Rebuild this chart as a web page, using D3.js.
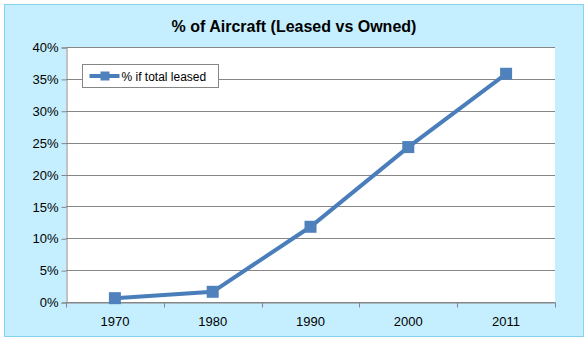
<!DOCTYPE html>
<html>
<head>
<meta charset="utf-8">
<script src="https://cdn.jsdelivr.net/npm/d3@7"></script>
<style>
  body { margin: 0; background: #fff; }
  text { font-family: "Liberation Sans", Arial, sans-serif; }
</style>
</head>
<body>
<svg id="chart" width="588" height="341"></svg>
<script>
var years = ["1970", "1980", "1990", "2000", "2011"],
    leased = [0.006, 0.016, 0.118, 0.243, 0.358],
    yTicks = [0, 0.05, 0.10, 0.15, 0.20, 0.25, 0.30, 0.35, 0.40];

var svg = d3.select("#chart"),
    margin = {left: 66, right: 33, top: 47, bottom: 39},
    width = +svg.attr("width"),
    height = +svg.attr("height");

// chart area background
svg.append("rect")
    .attr("x", 4.5).attr("y", 4.5)
    .attr("width", width - 9).attr("height", height - 9)
    .attr("fill", "#c5effe").attr("stroke", "#86d3f0");

var x = d3.scaleBand().domain(years).range([margin.left, width - margin.right]),
    y = d3.scaleLinear().domain([0, 0.4]).range([height - margin.bottom, margin.top]);

svg.append("rect")
    .attr("x", margin.left).attr("y", margin.top)
    .attr("width", width - margin.left - margin.right)
    .attr("height", height - margin.top - margin.bottom)
    .attr("fill", "#fff");

// gridlines
svg.append("g").selectAll("line").data(yTicks).enter().append("line")
    .attr("x1", margin.left).attr("x2", width - margin.right)
    .attr("y1", function(d) { return Math.round(y(d)) + 0.5; })
    .attr("y2", function(d) { return Math.round(y(d)) + 0.5; })
    .attr("stroke", "#868686");

var yAxis = svg.append("g")
    .attr("transform", "translate(" + (margin.left + 0.5) + ",0.5)")
    .call(d3.axisLeft(y).tickValues(yTicks).tickFormat(d3.format(".0%")).tickSize(5).tickPadding(3));

var xAxis = svg.append("g")
    .attr("transform", "translate(0," + (Math.round(y(0)) + 0.5) + ")")
    .call(d3.axisBottom(x).tickSize(0).tickPadding(14));

// category separator ticks
xAxis.append("g").selectAll("line").data(years.concat(["end"])).enter().append("line")
    .attr("x1", function(d, i) { return Math.round(margin.left + i * x.bandwidth()) + 0.5; })
    .attr("x2", function(d, i) { return Math.round(margin.left + i * x.bandwidth()) + 0.5; })
    .attr("y1", 0).attr("y2", 5)
    .attr("stroke", "#868686");

[yAxis, xAxis].forEach(function(a) {
  a.select(".domain").attr("stroke", "#868686");
  a.selectAll(".tick line").attr("stroke", "#868686");
  a.selectAll("text").attr("font-size", 13).attr("fill", "#000")
      .style("font-family", "'Liberation Sans', Arial, sans-serif");
});

var line = d3.line()
    .x(function(d, i) { return x(years[i]) + x.bandwidth() / 2; })
    .y(function(d) { return y(d); });

svg.append("path").datum(leased)
    .attr("d", line)
    .attr("fill", "none")
    .attr("stroke", "#4a7ebb")
    .attr("stroke-width", 4);

svg.append("g").selectAll("rect").data(leased).enter().append("rect")
    .attr("x", function(d, i) { return x(years[i]) + x.bandwidth() / 2 - 6; })
    .attr("y", function(d) { return y(d) - 6; })
    .attr("width", 12).attr("height", 12)
    .attr("fill", "#4f81bd");

svg.append("text")
    .attr("x", width / 2).attr("y", 32)
    .attr("text-anchor", "middle")
    .attr("font-size", 16).attr("font-weight", "bold")
    .text("% of Aircraft (Leased vs Owned)");

// legend
var legend = svg.append("g").attr("transform", "translate(82.5,64.5)");
legend.append("rect").attr("width", 136).attr("height", 23)
    .attr("fill", "#fff").attr("stroke", "#868686");
legend.append("line").attr("x1", 7).attr("x2", 37).attr("y1", 11.5).attr("y2", 11.5)
    .attr("stroke", "#4a7ebb").attr("stroke-width", 4);
legend.append("rect").attr("x", 18).attr("y", 7).attr("width", 9).attr("height", 9)
    .attr("fill", "#4f81bd");
legend.append("text").attr("x", 39).attr("y", 16)
    .attr("font-size", 12).text("% if total leased");
</script>
</body>
</html>
